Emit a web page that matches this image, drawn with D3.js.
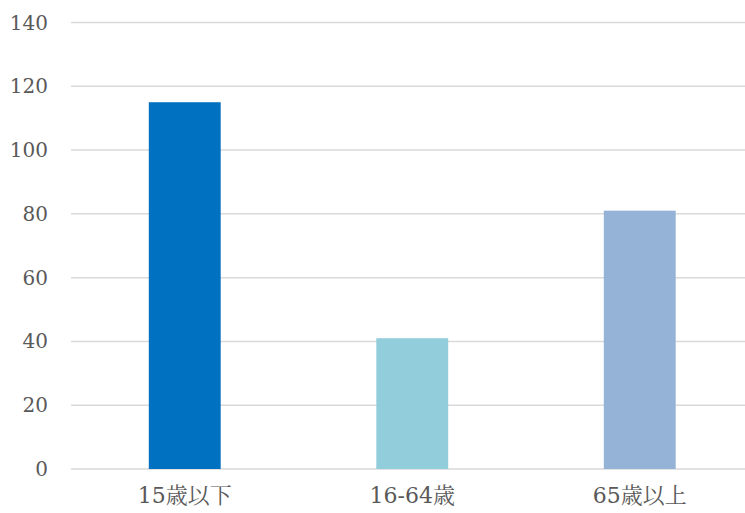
<!DOCTYPE html>
<html><head><meta charset="utf-8">
<script src="https://cdn.jsdelivr.net/npm/d3@7"></script>
<style>body{margin:0;background:#fff}</style>
</head><body>
<script>
const categories = ["15歳以下", "16-64歳", "65歳以上"];
const values = [115, 41, 81];
const colors = ["#0070C0", "#92CDDC", "#95B3D7"];
const yTicks = [0, 20, 40, 60, 80, 100, 120, 140];

const W = 745, H = 513;
const m = {left: 71, right: 753.5, top: 22.5, bottom: 469};
const svg = d3.select("body").append("svg").attr("width", W).attr("height", H);
const x = d3.scaleBand().domain(categories).range([m.left, m.right]).paddingInner(0.684).paddingOuter(0.342);
const y = d3.scaleLinear().domain([0, 140]).range([m.bottom, m.top]);

const font = "'DejaVu Serif', 'Noto Serif CJK JP', 'Noto Sans CJK JP', serif";

svg.append("g").selectAll("line").data(yTicks).join("line")
  .attr("x1", m.left).attr("x2", W).attr("y1", d => y(d)).attr("y2", d => y(d))
  .attr("stroke", "#d9d9d9").attr("stroke-width", 1.5);

svg.append("g").selectAll("text").data(yTicks).join("text")
  .attr("x", 48).attr("y", d => y(d)).attr("dy", "0.35em").attr("text-anchor", "end")
  .attr("font-family", font).attr("font-size", 20).attr("fill", "#595959")
  .text(d => d);

svg.append("g").selectAll("rect").data(values).join("rect")
  .attr("x", (d, i) => x(categories[i])).attr("width", x.bandwidth())
  .attr("y", d => y(d)).attr("height", d => y(0) - y(d))
  .attr("fill", (d, i) => colors[i]);

svg.append("g").selectAll("text").data(categories).join("text")
  .attr("x", d => x(d) + x.bandwidth() / 2).attr("y", 503).attr("text-anchor", "middle")
  .attr("font-family", font).attr("font-size", 22).attr("fill", "#595959")
  .text(d => d);
</script>
</body></html>
